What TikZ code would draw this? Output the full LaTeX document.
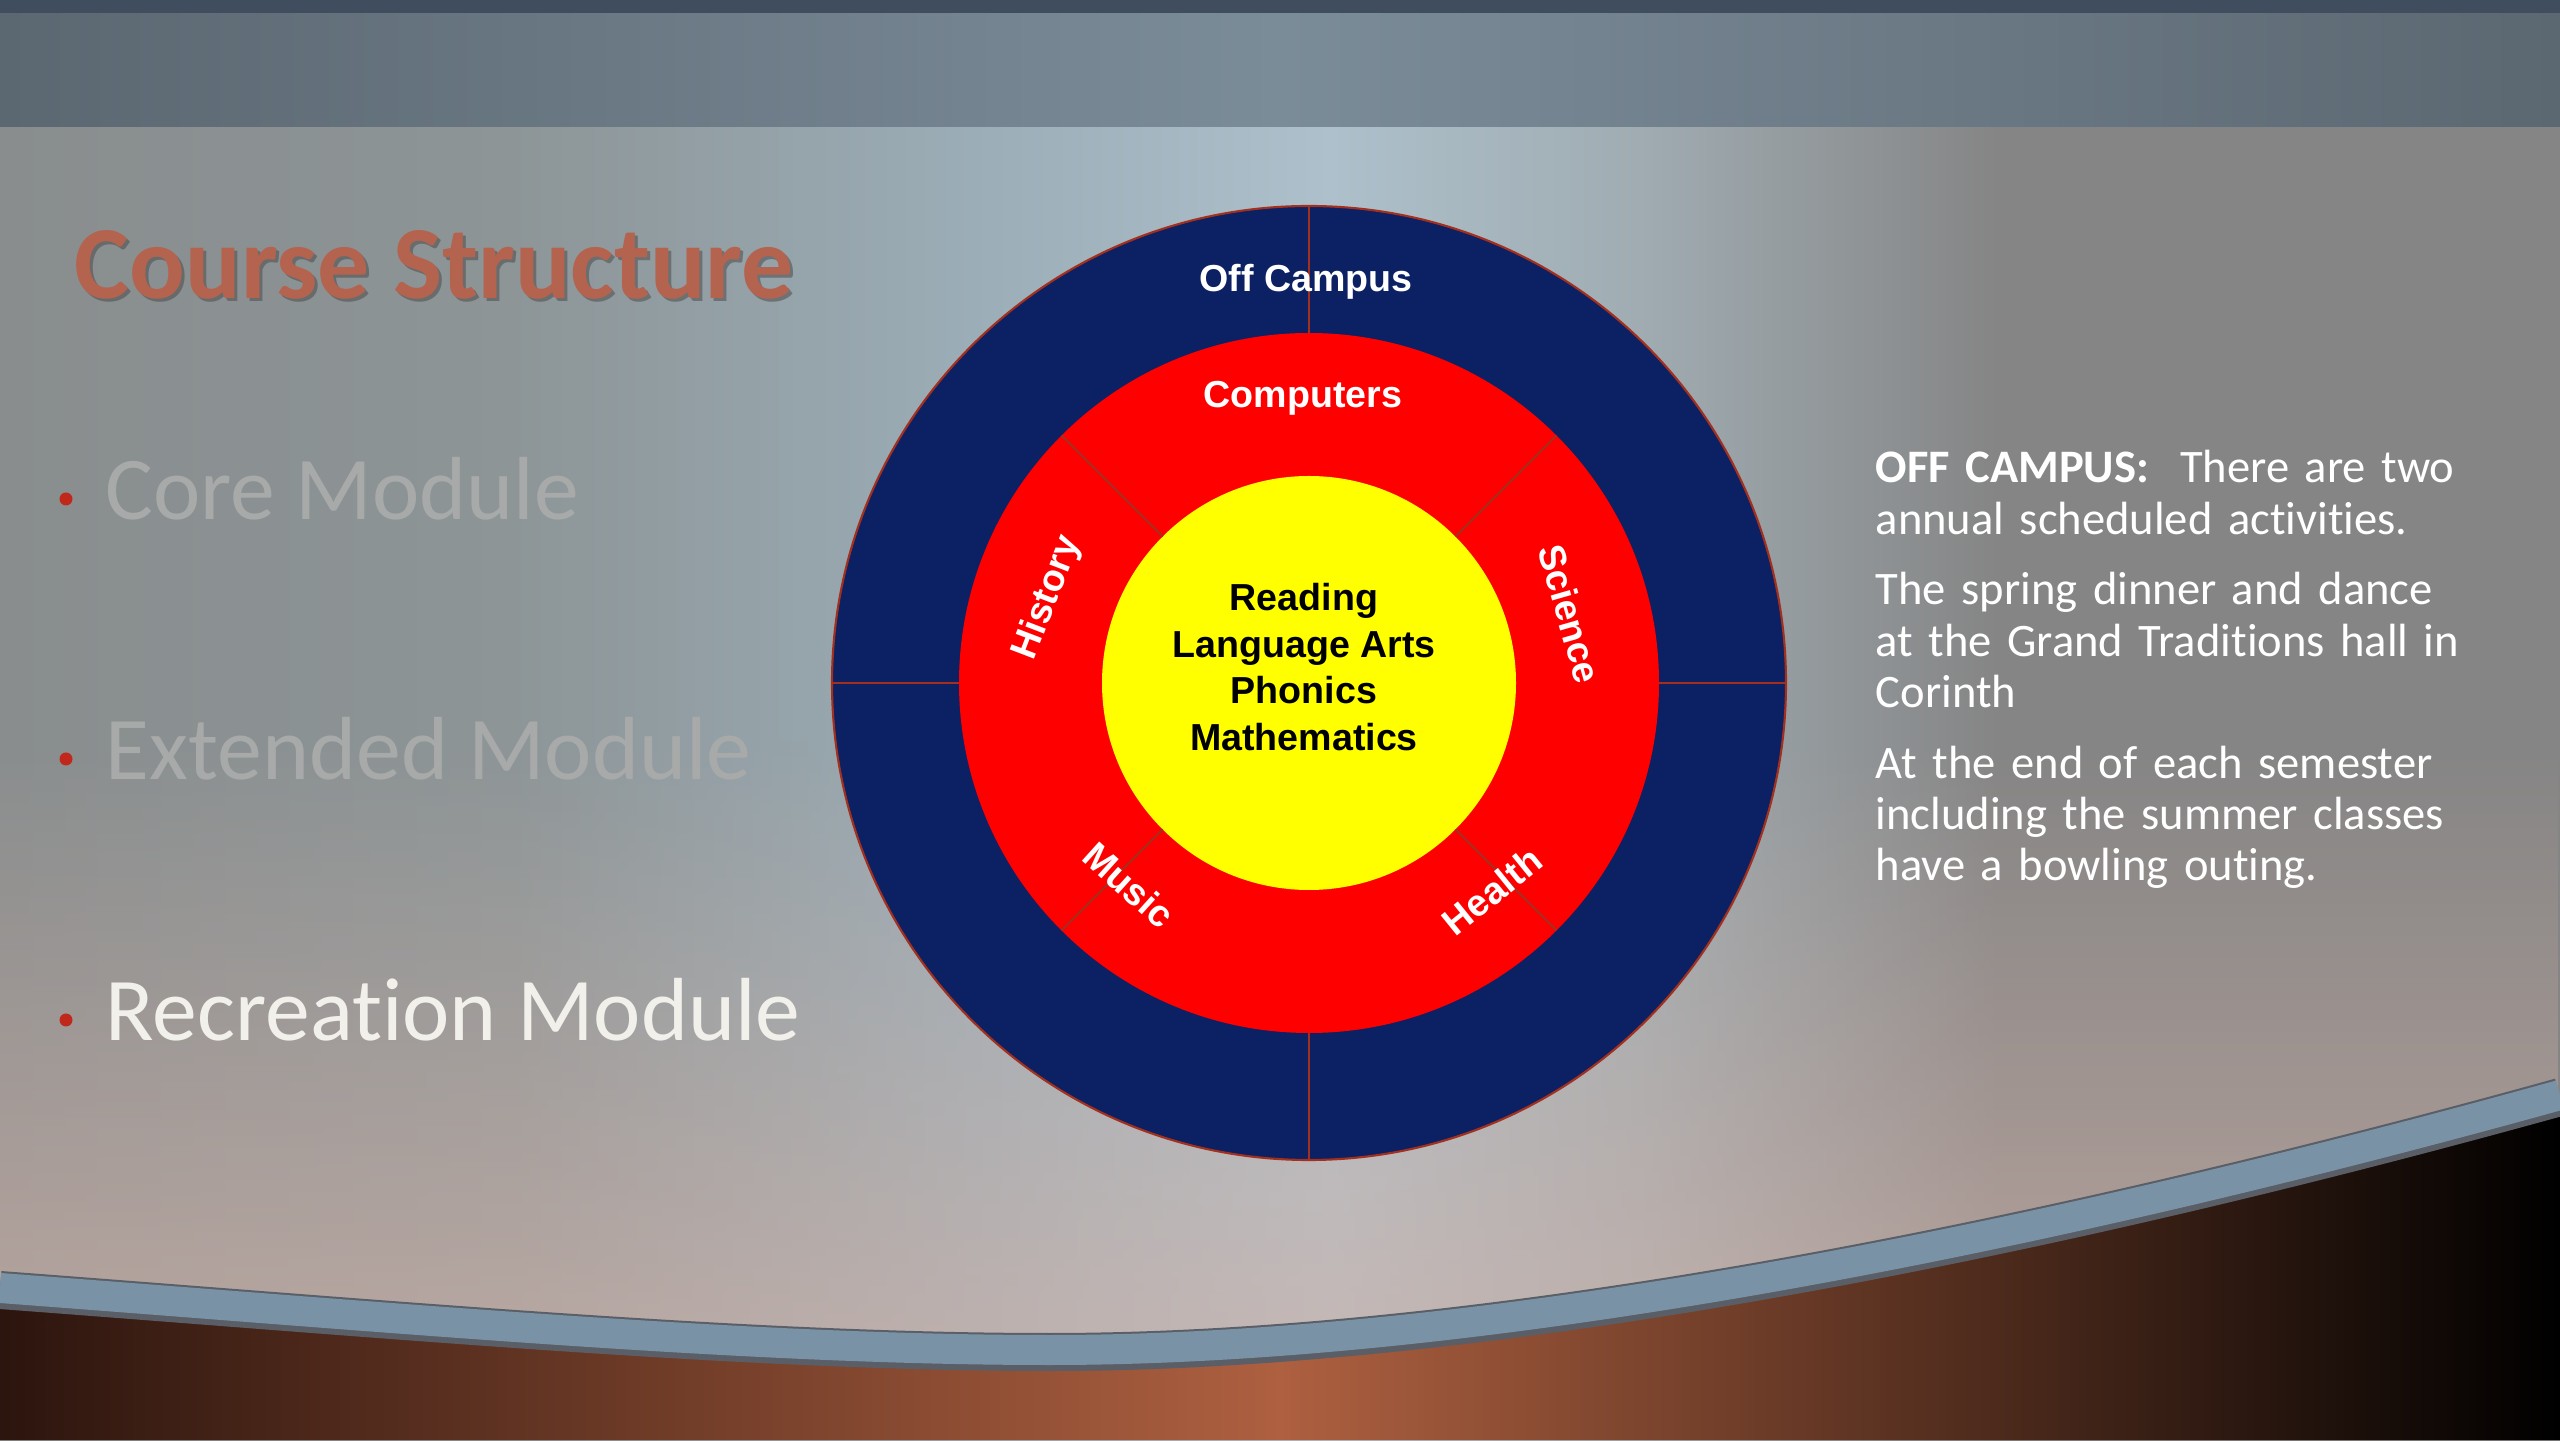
\documentclass[tikz,border=0pt]{standalone}
\usepackage{fontspec}
\setmainfont{Carlito}[Ligatures=NoCommon]
\newfontfamily\arialfont{Liberation Sans}
\usepackage{tikz}
\usepackage{xcolor}
\usetikzlibrary{
    calc,
    fadings,
    positioning
}
\definecolor{bartop}{HTML}{3F4D5E}
\definecolor{barside}{HTML}{5B6771}
\definecolor{barmid}{HTML}{7B8C99}
\definecolor{wallleft}{HTML}{898D8E}
\definecolor{wallgray}{HTML}{8D9597}
\definecolor{wallblue}{HTML}{9BADB7}
\definecolor{wallmid}{HTML}{ADC0CB}
\definecolor{wallfade}{HTML}{A0ACB2}
\definecolor{wallright}{HTML}{858585}
\definecolor{wallwarm}{HTML}{D4B3A8}
\definecolor{floorleft}{HTML}{2C150E}
\definecolor{floormid}{HTML}{AE6040}
\definecolor{rimblue}{HTML}{7A92A5}
\definecolor{rimdark}{HTML}{5A5E66}
\definecolor{navyring}{HTML}{0B2163}
\definecolor{redring}{HTML}{FF0000}
\definecolor{yellowcore}{HTML}{FFFF00}
\definecolor{divline}{HTML}{A3301E}
\definecolor{titlered}{HTML}{B4634F}
\definecolor{bulletred}{HTML}{C0281C}
\definecolor{dimgray}{HTML}{A8AAAA}
\definecolor{brightgray}{HTML}{F2F0EA}
\pgfdeclarehorizontalshading{wallshade}{100bp}{color(0bp)=(wallleft); color(25bp)=(wallleft); color(35bp)=(wallgray); color(44bp)=(wallblue); color(51bp)=(wallmid); color(57bp)=(wallfade); color(64bp)=(wallright); color(75bp)=(wallright); color(100bp)=(wallright)}
\tikzset{
    ringlabel/.style={text=white, inner sep=0pt, font=\arialfont\bfseries\fontsize{10.7}{12}\selectfont},
    modulelabel/.style={anchor=base west, inner sep=0pt, font=\fontsize{25.5}{30}\selectfont},
    titlelabel/.style={anchor=base west, inner sep=0pt, font=\bfseries\fontsize{29.5}{34}\selectfont},
    bulletdot/.style={circle, fill=bulletred, inner sep=0pt, minimum size=0.13cm},
    divider/.style={divline, line width=0.6pt}
}

\begin{document}
\begin{tikzpicture}
    \useasboundingbox (0, 0) rectangle (25.6, 14.4);
    \shade[shading=wallshade] (0, 0) rectangle (25.6, 13.13);
    \fill[wallwarm, path fading=north, fill opacity=0.7] (0, 0) rectangle (25.6, 7);
    \shade[left color=barside, right color=barside, middle color=barmid] (0, 13.13) rectangle (25.6, 14.27);
    \fill[bartop] (0, 14.27) rectangle (25.6, 14.4);
    \shade[left color=floorleft, right color=black, middle color=floormid] (0, 0) -- (0, 1.5) .. controls (4, 1.2) and (7.5, 0.88) .. (10.5, 0.88) .. controls (14, 0.88) and (19, 1.6) .. (25.6, 3.43) -- (25.6, 0) -- cycle;
    \draw[rimdark, line width=0.38cm] (0, 1.5) .. controls (4, 1.2) and (7.5, 0.88) .. (10.5, 0.88) .. controls (14, 0.88) and (19, 1.6) .. (25.6, 3.43);
    \draw[rimblue, line width=0.3cm] (0, 1.52) .. controls (4, 1.22) and (7.5, 0.9) .. (10.5, 0.9) .. controls (14, 0.9) and (19, 1.62) .. (25.6, 3.45);

    \begin{scope}[shift={(13.09, 7.57)}]
        \fill[navyring] (0, 0) circle (4.77);
        \draw[divider] (0, 0) circle (4.77);
        \fill[redring] (0, 0) circle (3.50);
        \fill[yellowcore] (0, 0) circle (2.07);
        \foreach \a in {0, 90, 180, 270}
            \draw[divider] (\a:3.50) -- (\a:4.77);
        \foreach \a in {45, 135, 225, 315}
            \draw[divider] (\a:2.07) -- (\a:3.50);
        \node[ringlabel] (offcampus) at (-0.03, 4.01) {Off Campus};
        \node[ringlabel] (computers) at (-0.06, 2.85) {Computers};
        \node[ringlabel, rotate=69] (history) at (-2.61, 0.85) {History};
        \node[ringlabel, rotate=-74] (science) at (2.61, 0.69) {Science};
        \node[ringlabel, rotate=-42] (music) at (-1.80, -2.02) {Music};
        \node[ringlabel, rotate=39] (health) at (1.83, -2.08) {Health};
        \node[align=center, inner sep=0pt, font=\arialfont\bfseries\fontsize{10.7}{13.2}\selectfont] (corelist) at (-0.05, 0.16) {Reading\\Language Arts\\Phonics\\Mathematics};
    \end{scope}

    \node[titlelabel, text=black!70, opacity=0.55] (titleshadow) at (0.77, 11.38) {Course Structure};
    \node[titlelabel, text=titlered] (title) at (0.74, 11.41) {Course Structure};
    \node[bulletdot] (dotcore) at (0.66, 9.41) {};
    \node[bulletdot] (dotext) at (0.66, 6.81) {};
    \node[bulletdot] (dotrec) at (0.66, 4.20) {};
    \node[modulelabel, text=dimgray] (coremod) at (1.05, 9.20) {Core Module};
    \node[modulelabel, text=dimgray] (extmod) at (1.05, 6.60) {Extended Module};
    \node[modulelabel, text=brightgray] (recmod) at (1.05, 3.99) {Recreation Module};

    \node[anchor=base west, inner sep=0pt, text=white, text width=6.6cm, align=left, font=\fontsize{13.25}{14.6}\selectfont] (offtext) at (18.75, 9.57) {\setlength{\parindent}{0pt}\setlength{\parskip}{5.5pt}\textbf{OFF CAMPUS:}\ \ There are two\\annual scheduled activities.\par The spring dinner and dance\\at the Grand Traditions hall in\\Corinth\par At the end of each semester\\including the summer classes\\have a bowling outing.};
\end{tikzpicture}
\end{document}
